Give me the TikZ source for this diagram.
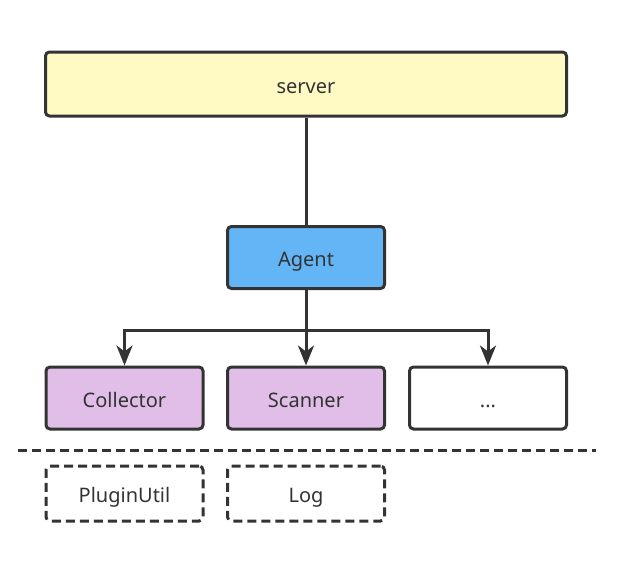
\documentclass[tikz,border=0pt]{standalone}
\usepackage{fontspec}
\setmainfont{Noto Sans}
\usetikzlibrary{arrows.meta,positioning}

\definecolor{ink}{HTML}{333333}
\definecolor{srvyellow}{HTML}{FFF9C4}
\definecolor{agtblue}{HTML}{64B5F6}
\definecolor{modpurple}{HTML}{E1BEE7}

\tikzset{
  wire/.style={draw=ink, line width=3pt},
  box/.style={draw=ink, line width=3pt, rounded corners=4pt, minimum width=157pt,
              minimum height=62pt, text=ink, font=\fontsize{20}{22}\selectfont, inner sep=0pt,
              text height=18pt, text depth=0pt},
  util/.style={box, dash pattern=on 9pt off 5pt, minimum height=55pt}
}

\begin{document}
\begin{tikzpicture}[x=1pt,y=-1pt,>={Stealth[length=20pt,width=16pt,inset=6pt]}]
  \useasboundingbox (0,0) rectangle (633,570);

  \node[box, fill=srvyellow, minimum width=521pt, minimum height=64pt] (server) at (306,84)   {server};
  \node[box, fill=agtblue]                      (agent)  at (306,257.5)  {Agent};
  \node[box, fill=modpurple]                    (coll)   at (124.5,398) {Collector};
  \node[box, fill=modpurple]                    (scan)   at (306,398)  {Scanner};
  \node[box, fill=white]                        (more)   at (488,398)  {...};
  \node[util]                                   (plug)   at (124.5,493.5) {PluginUtil};
  \node[util]                                   (log)    at (306,493.5) {Log};

  \coordinate (fork) at (306,330);
  \coordinate (sepL) at (18,450);
  \coordinate (sepR) at (596,450);

  \draw[wire] (server) -- (agent);
  \draw[wire] (agent) -- (fork);
  \draw[wire, ->] (fork) -| (coll);
  \draw[wire, ->] (fork) -- (scan);
  \draw[wire, ->] (fork) -| (more);

  \draw[wire, dash pattern=on 9pt off 5pt] (sepL) -- (sepR);
\end{tikzpicture}
\end{document}
